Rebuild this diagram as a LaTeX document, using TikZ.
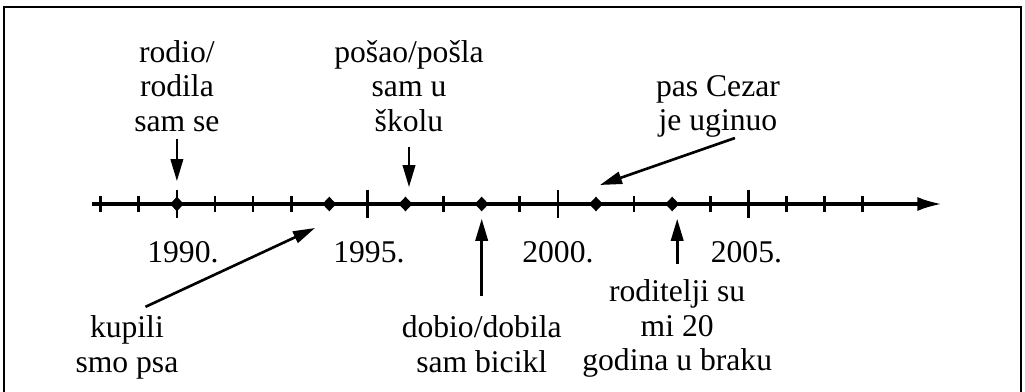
\documentclass[tikz,border=0pt]{standalone}
\usepackage{fontspec}
\setmainfont{Liberation Serif}
\usetikzlibrary{arrows.meta, positioning, shapes.geometric}

\begin{document}
\begin{tikzpicture}[
    x=0.02cm, y=-0.02cm,
    event/.style={align=center, inner sep=0pt, font=\fontsize{18}{19.6}\selectfont},
    yearlbl/.style={inner sep=0pt, font=\fontsize{18}{19.6}\selectfont},
    evdot/.style={diamond, fill=black, inner sep=0pt, minimum width=8pt, minimum height=8.5pt},
    axisline/.style={-{Latex[length=14pt, width=8pt]}, line width=2pt},
    minortick/.style={line width=1.5pt},
    arrow/.style={-{Triangle[length=12.5pt, width=7pt]}, line width=1.5pt}
]
\useasboundingbox (0,0) rectangle (1025,392);

% Frame (open at the bottom)
\draw[line width=1.5pt] (4,396) -- (4,7) -- (1021,7) -- (1021,396);

% Axis
\coordinate (axstart) at (92,204);
\coordinate (axend) at (942,204);
\draw[axisline] (axstart) -- (axend);

% Year positions
\foreach \i in {0,...,20} {
    \pgfmathtruncatemacro{\yr}{1988+\i}
    \coordinate (t\yr) at ({100.7+38.1*\i},204);
}

% Ticks
\foreach \yr in {1988,1989,1991,1992,1993,1997,1999,2002,2004,2006,2007,2008}
    \draw[minortick] ([yshift=0.16cm]t\yr) -- ([yshift=-0.16cm]t\yr);
\foreach \yr in {1990,1995,2000,2005}
    \draw[minortick] ([yshift=0.29cm]t\yr) -- ([yshift=-0.29cm]t\yr);

% Dots
\foreach \yr in {1990,1994,1996,1998,2001,2003}
    \node[evdot] (d\yr) at (t\yr) {};

% Year labels
\foreach \yr/\dx in {1990/0.12, 1995/0.03, 2000/0, 2005/-0.04}
    \node[yearlbl, below=0.75cm of t\yr, xshift=\dx cm] (l\yr) {\yr.};

% Events above the line
\node[event, above=1.44cm of t1990] (born) {rodio/\\rodila\\sam se};
\node[event, above=1.44cm of t1996, xshift=0.07cm] (school) {pošao/pošla\\sam u\\školu};
\node[event, above=1.32cm of t2001, xshift=2.44cm] (dog) {pas Cezar\\je uginuo};

% Events below the line
\node[event, below=2.23cm of t1990, xshift=-1cm] (pet) {kupili\\smo psa};
\node[event, below=2.23cm of t1998] (bike) {dobio/dobila\\sam bicikl};
\node[event, below=1.51cm of t2003, xshift=0.1cm] (parents) {roditelji su\\mi 20\\godina u braku};

% Arrows
\coordinate (pettip) at (315,228);
\coordinate (dogtip) at (600,185);
\draw[arrow, shorten <=0.14cm, shorten >=0.3cm] (born.south) -- (d1990);
\draw[arrow, shorten <=0.3cm, shorten >=0.18cm] (school.south) -- (school.south |- d1996.north);
\draw[arrow] ([xshift=0.34cm]dog.south) -- (dogtip);
\draw[arrow, shorten <=0.41cm] (pet.north) -- (pettip);
\draw[arrow, shorten <=0.38cm, shorten >=0.14cm] (bike.north) -- (bike.north |- d1998.south);
\draw[arrow, shorten <=0.3cm, shorten >=0.14cm] (parents.north) -- (parents.north |- d2003.south);

\end{tikzpicture}
\end{document}
